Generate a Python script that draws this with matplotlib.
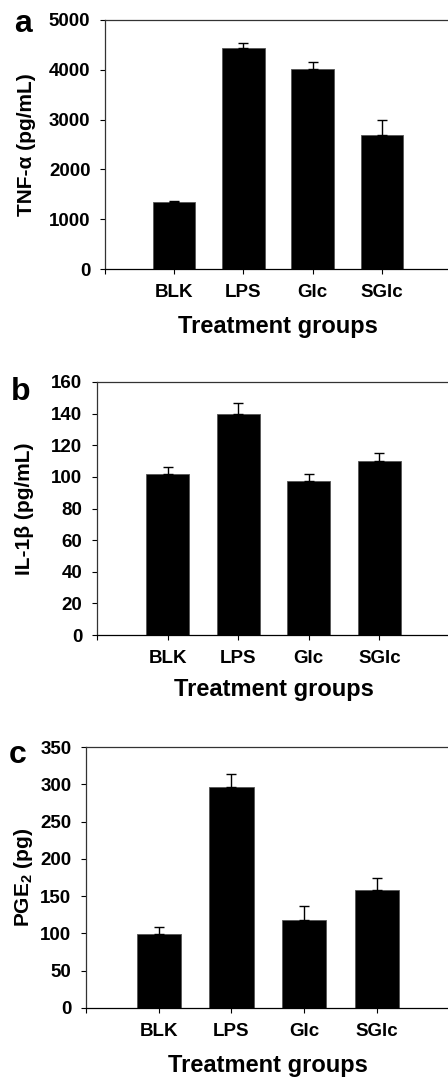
import numpy as np
import matplotlib
matplotlib.use("Agg")
import matplotlib.pyplot as plt

plt.rcParams['font.family'] = ['Liberation Sans', 'DejaVu Sans']
plt.rcParams['font.weight'] = 'bold'
plt.rcParams['mathtext.fontset'] = 'custom'
plt.rcParams['mathtext.rm'] = 'Liberation Sans:bold'
plt.rcParams['mathtext.it'] = 'Liberation Sans:bold'
plt.rcParams['mathtext.default'] = 'rm'

# data
groups = ['BLK', 'LPS', 'Glc', 'SGlc']
tnf_mean = [1340, 4445, 4017, 2700]
tnf_err = [30, 100, 140, 300]
il1b_mean = [101.6, 139.6, 97.1, 110.2]
il1b_err = [4.4, 7.0, 5.0, 5.0]
pge2_mean = [99, 296, 118, 158]
pge2_err = [10, 18, 19, 16]

W, H = 448, 1078
fig = plt.figure(figsize=(W / 100, H / 100), dpi=100)

# panel: (letter, mean, err, ylabel, ymax, ystep, left, right, top, bottom, letter pos, ylabel x, xlabel y)
panels = [
    ('a', tnf_mean, tnf_err, 'TNF-α (pg/mL)', 5000, 1000, 105, 451, 20, 269, (23, 32), -0.228, -0.229),
    ('b', il1b_mean, il1b_err, 'IL-1β (pg/mL)', 160, 20, 97, 450, 382, 635, (21, 400), -0.204, -0.217),
    ('c', pge2_mean, pge2_err, 'PGE$_2$ (pg)', 350, 50, 86, 449.5, 747, 1008, (18, 763), -0.173, -0.222),
]

for letter, mean, err, ylab, ymax, ystep, l, r, t, b, lpos, ylx, xly in panels:
    ax = fig.add_axes([l / W, 1 - b / H, (r - l) / W, (b - t) / H])
    x = np.arange(1, len(groups) + 1)
    ax.bar(x, mean, width=0.61, color='black', edgecolor='#555555', linewidth=0.6, zorder=2)
    ax.errorbar(x, mean, yerr=[np.zeros(len(err)), err], fmt='none', ecolor='black',
                elinewidth=1, capsize=3.6, capthick=1, zorder=3)
    ax.set_xlim(0, 5)
    ax.set_ylim(0, ymax)
    ax.set_yticks(np.arange(0, ymax + 1, ystep))
    ax.set_xticks([0] + list(x))
    ax.set_xticklabels([''] + groups, fontsize=13.5, fontweight='bold')
    for lab in ax.get_yticklabels():
        lab.set_fontsize(13.5)
        lab.set_fontweight('bold')
    ax.tick_params(axis='both', direction='out', length=3.5, width=0.8, pad=7)
    ax.tick_params(axis='x', pad=7)
    ax.spines['right'].set_visible(False)
    for s in ['left', 'top', 'bottom']:
        ax.spines[s].set_linewidth(0.9)
    ax.spines['left'].set_color('#333333')
    ax.spines['top'].set_color('#333333')
    ax.set_ylabel(ylab, fontsize=15, fontweight='bold')
    ax.yaxis.set_label_coords(ylx, 0.5)
    ax.yaxis.label.set_va('center')
    ax.set_xlabel('Treatment groups', fontsize=17, fontweight='bold')
    ax.xaxis.set_label_coords(0.5, xly)
    ax.xaxis.label.set_va('center')
    fig.text(lpos[0] / W, 1 - lpos[1] / H, letter, fontsize=23, fontweight='bold',
             ha='center', va='baseline')

fig.savefig('out.png', dpi=100)
